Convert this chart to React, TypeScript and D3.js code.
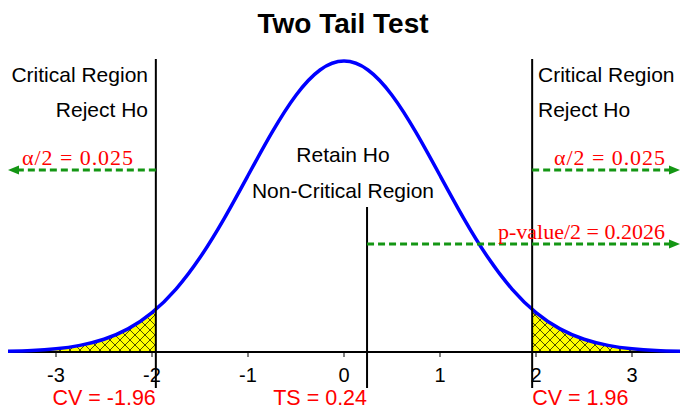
import React from "react";
import * as d3 from "d3";

// standard normal density, every 0.25
const zValues = [
  -3.5, -3.25, -3, -2.75, -2.5, -2.25, -2, -1.75, -1.5, -1.25, -1, -0.75, -0.5, -0.25, 0,
  0.25, 0.5, 0.75, 1, 1.25, 1.5, 1.75, 2, 2.25, 2.5, 2.75, 3, 3.25, 3.5,
];
const density = [
  0.0009, 0.002, 0.0044, 0.0091, 0.0175, 0.0317, 0.054, 0.0863, 0.1295, 0.1826, 0.242,
  0.3011, 0.3521, 0.3867, 0.3989, 0.3867, 0.3521, 0.3011, 0.242, 0.1826, 0.1295, 0.0863,
  0.054, 0.0317, 0.0175, 0.0091, 0.0044, 0.002, 0.0009,
];
const tickValues = [-3, -2, -1, 0, 1, 2, 3];
const criticalValue = 1.96;
const testStatistic = 0.24;
const alphaLabel = "\u03b1/2 = 0.025";
const pValueLabel = "p-value/2 = 0.2026";

const W = 681;
const H = 409;
const sans = "'Liberation Sans', Arial, sans-serif";
const serif = "'Liberation Serif', 'Times New Roman', serif";
const green = "#149614";
const red = "#ff0000";

const App = () => {
  const x = d3.scaleLinear().domain([-3.5, 3.5]).range([8, 680]);
  const y = d3.scaleLinear().domain([0, 0.4]).range([352, 60.3]);

  const pts: [number, number][] = zValues.map((z, i) => [z, density[i]]);
  const line = d3
    .line<[number, number]>()
    .x((d) => x(d[0]))
    .y((d) => y(d[1]))
    .curve(d3.curveNatural);
  const area = d3
    .area<[number, number]>()
    .x((d) => x(d[0]))
    .y0(y(0))
    .y1((d) => y(d[1]))
    .curve(d3.curveNatural);

  const cvL = x(-criticalValue);
  const cvR = x(criticalValue);
  const ts = x(testStatistic);
  const base = y(0);

  const arrow = (x1: number, x2: number, yy: number, key: string) => {
    const dir = x2 > x1 ? 1 : -1;
    return (
      <g key={key}>
        <line
          x1={x1}
          x2={x2 - dir * 6}
          y1={yy}
          y2={yy}
          stroke={green}
          strokeWidth={3}
          strokeDasharray="7,4"
        />
        <path
          d={`M${x2},${yy} L${x2 - dir * 11},${yy - 4.5} L${x2 - dir * 11},${yy + 4.5} Z`}
          fill={green}
        />
      </g>
    );
  };

  const label = { fontFamily: sans, fontSize: 21 };

  return (
    <div style={{ position: "absolute", left: 0, top: 0 }}>
      <svg width={W} height={H} style={{ display: "block", background: "#fff" }}>
        <defs>
          <pattern id="hatch" width={10} height={10} patternUnits="userSpaceOnUse">
            <rect width={10} height={10} fill="#ffff00" />
            <path d="M0,0 L10,10 M10,0 L0,10" stroke="#000" strokeWidth={0.7} />
          </pattern>
          <clipPath id="tails">
            <rect x={0} y={0} width={cvL} height={H} />
            <rect x={cvR} y={0} width={W - cvR} height={H} />
          </clipPath>
        </defs>

        <text x={343} y={33} textAnchor="middle" fontFamily={sans} fontWeight="bold" fontSize={28}>
          Two Tail Test
        </text>

        <path d={area(pts) || ""} fill="url(#hatch)" clipPath="url(#tails)" />

        {/* axis */}
        <line x1={8} x2={680} y1={base} y2={base} stroke="#000" strokeWidth={2} />
        {tickValues.map((t) => (
          <g key={t}>
            <line x1={x(t)} x2={x(t)} y1={base} y2={base + 5} stroke="#000" strokeWidth={1} />
            <text x={x(t)} y={382} textAnchor="middle" fontFamily={sans} fontSize={20}>
              {t}
            </text>
          </g>
        ))}

        <path d={line(pts) || ""} fill="none" stroke="#0000ff" strokeWidth={3.5} />

        {/* critical value and test statistic lines */}
        <line x1={cvL} x2={cvL} y1={59} y2={388} stroke="#000" strokeWidth={2} />
        <line x1={cvR} x2={cvR} y1={59} y2={388} stroke="#000" strokeWidth={2} />
        <line x1={ts} x2={ts} y1={207} y2={388} stroke="#000" strokeWidth={2} />

        <text x={148} y={82} textAnchor="end" {...label}>
          Critical Region
        </text>
        <text x={148} y={117} textAnchor="end" {...label}>
          Reject Ho
        </text>
        <text x={538} y={82} {...label}>
          Critical Region
        </text>
        <text x={538} y={117} {...label}>
          Reject Ho
        </text>
        <text x={343} y={162} textAnchor="middle" {...label}>
          Retain Ho
        </text>
        <text x={343} y={198} textAnchor="middle" {...label}>
          Non-Critical Region
        </text>

        {arrow(cvL, 8, 170, "al")}
        {arrow(cvR, 680, 170, "ar")}
        {arrow(ts, 680, 244, "p")}
        <text x={22} y={165} fontFamily={serif} fontSize={22} fill={red} textLength={111}>
          {alphaLabel}
        </text>
        <text x={554} y={165} fontFamily={serif} fontSize={22} fill={red} textLength={111}>
          {alphaLabel}
        </text>
        <text x={498} y={239} fontFamily={serif} fontSize={22} fill={red} textLength={167}>
          {pValueLabel}
        </text>

        <text x={cvL} y={405} textAnchor="end" fontFamily={sans} fontSize={21.5} fill={red}>
          {`CV = -${criticalValue}`}
        </text>
        <text x={ts} y={405} textAnchor="end" fontFamily={sans} fontSize={21.5} fill={red}>
          {`TS = ${testStatistic}`}
        </text>
        <text x={cvR} y={405} fontFamily={sans} fontSize={21.5} fill={red}>
          {`CV = ${criticalValue}`}
        </text>
      </svg>
    </div>
  );
};

export default App;
